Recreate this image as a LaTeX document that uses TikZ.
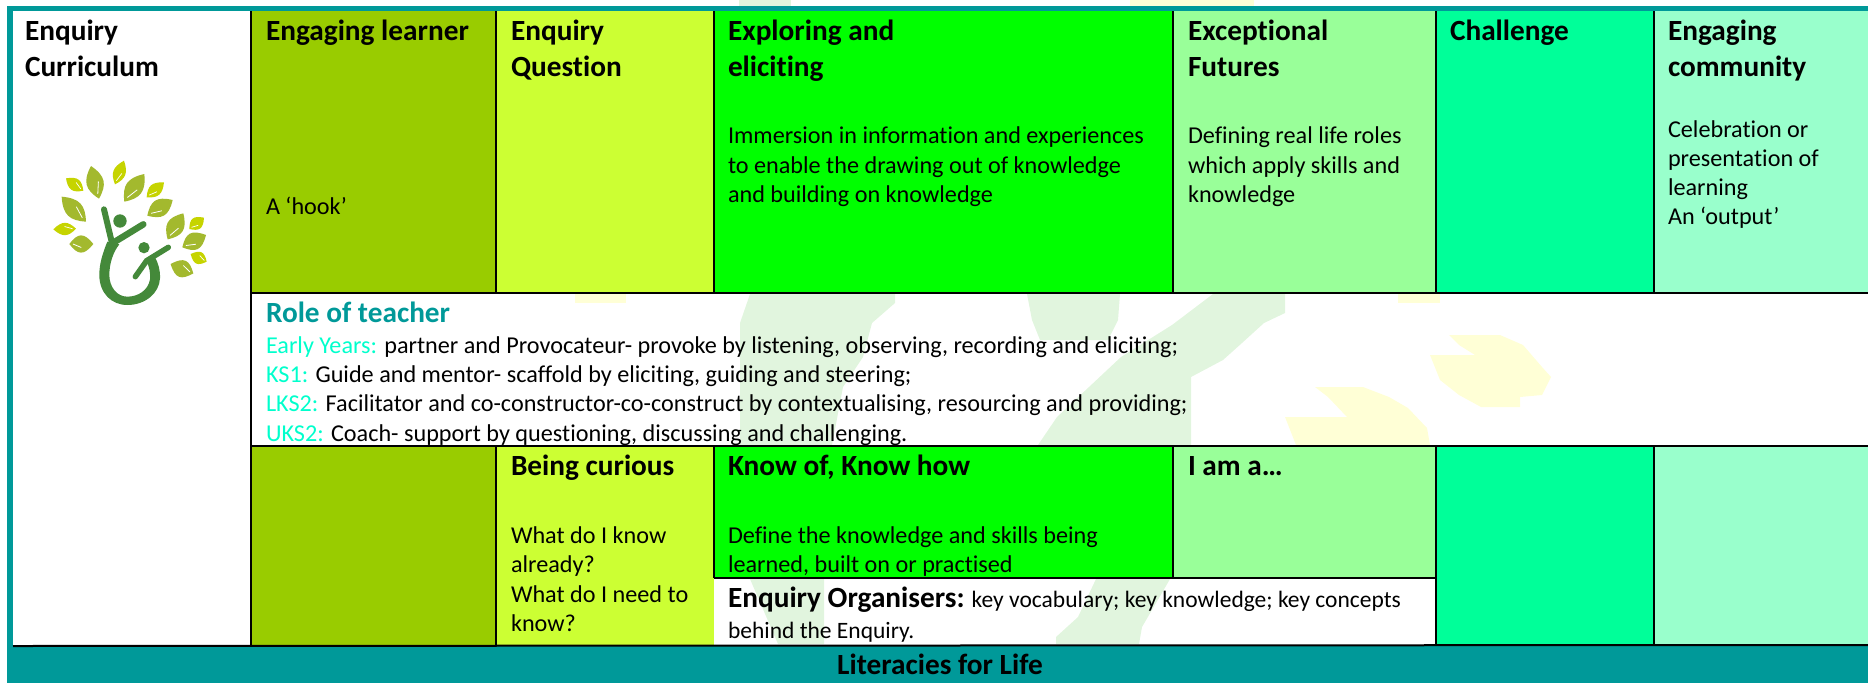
\documentclass[tikz,border=0pt]{standalone}
\usepackage{fontspec}
\setmainfont{Carlito}[Ligatures=NoCommon]
\usetikzlibrary{calc}
\definecolor{teal1}{HTML}{009999}
\definecolor{olive1}{HTML}{99CC00}
\definecolor{lime1}{HTML}{CCFF33}
\definecolor{green1}{HTML}{00FF00}
\definecolor{light1}{HTML}{99FF99}
\definecolor{spring1}{HTML}{00FF99}
\definecolor{mint1}{HTML}{99FFCC}
\definecolor{cyan1}{HTML}{00FFCC}
\definecolor{wmg}{HTML}{E1F5DE}
\definecolor{wmy}{HTML}{FFFFD6}
\definecolor{leafd}{HTML}{A3B92E}
\definecolor{leafl}{HTML}{C6D400}
\definecolor{treeg}{HTML}{44893A}
\newcommand\hdf{\fontsize{29.3}{35}\selectfont\bfseries}
\newcommand\bdf{\fontsize{24.2}{29}\selectfont}
\newcommand\orgf{\fontsize{23.5}{29}\selectfont}
\newcommand\leafd[4]{%
  \coordinate (la) at (#1,#2); \coordinate (lb) at (#3,#4);
  \fill[leafd] (la) .. controls ($(la)!.4!(lb)!12pt!90:(lb)$) and ($(la)!.65!(lb)!11pt!90:(lb)$) .. (lb)
    .. controls ($(la)!.65!(lb)!11pt!-90:(lb)$) and ($(la)!.4!(lb)!12pt!-90:(lb)$) .. (la);
  \draw[white,line width=.8pt] ($(la)!.5!(lb)!3.5pt!90:(lb)$) -- ($(la)!.85!(lb)$);
}
\newcommand\leafl[4]{%
  \coordinate (la) at (#1,#2); \coordinate (lb) at (#3,#4);
  \fill[leafl] (la) .. controls ($(la)!.4!(lb)!8.5pt!90:(lb)$) and ($(la)!.65!(lb)!8pt!90:(lb)$) .. (lb)
    .. controls ($(la)!.65!(lb)!8pt!-90:(lb)$) and ($(la)!.4!(lb)!8.5pt!-90:(lb)$) .. (la);
  \draw[white,line width=.7pt] ($(la)!.5!(lb)!2.5pt!90:(lb)$) -- ($(la)!.85!(lb)$);
}
\tikzset{
  x=1pt,y=-1pt,
  cellbox/.style={anchor=north west,inner sep=0pt,outer sep=0pt,minimum width=#1},
  hd/.style={anchor=base west,inner sep=0pt,outer sep=0pt,font=\hdf},
  bd/.style={anchor=base west,inner sep=0pt,outer sep=0pt,font=\bdf},
  org/.style={anchor=base west,inner sep=0pt,outer sep=0pt,font=\orgf},
  rule/.style={draw=black,line width=1.6pt},
  thick rule/.style={draw=black,line width=2pt},
}
\begin{document}
\begin{tikzpicture}
\useasboundingbox (0,0) rectangle (1868,683);
% frame
\node[cellbox=1868-7,fill=teal1,minimum height=5pt] (topband) at (7,6) {};
\node[cellbox=6,fill=teal1,minimum height=640pt] (leftband) at (7,6) {};
\node[cellbox=1868-7,fill=teal1,minimum height=37pt] (botband) at (7,646) {};
% row 1 cells
\node[cellbox=238,fill=white,minimum height=635pt] (c0) at (13,11) {};
\node[cellbox=245,fill=olive1,minimum height=282pt] (a1) at (251,11) {};
\node[cellbox=218,fill=lime1,minimum height=282pt] (a2) at (496,11) {};
\node[cellbox=459,fill=green1,minimum height=282pt] (a3) at (714,11) {};
\node[cellbox=263,fill=light1,minimum height=282pt] (a4) at (1173,11) {};
\node[cellbox=218,fill=spring1,minimum height=282pt] (a5) at (1436,11) {};
\node[cellbox=214,fill=mint1,minimum height=282pt] (a6) at (1654,11) {};
% row 3 cells
\node[cellbox=245,fill=olive1,minimum height=199pt] (b1) at (251,446) {};
\node[cellbox=218,fill=lime1,minimum height=199pt] (b2) at (496,446) {};
\node[cellbox=459,fill=green1,minimum height=132pt] (b3) at (714,446) {};
\node[cellbox=263,fill=light1,minimum height=132pt] (b4) at (1173,446) {};
\node[cellbox=218,fill=spring1,minimum height=199pt] (b5) at (1436,446) {};
\node[cellbox=214,fill=mint1,minimum height=199pt] (b6) at (1654,446) {};
% watermark fragments
\fill[wmg] (739,0) rectangle (791,6);
\fill[wmy] (1130,0) rectangle (1254,6);
\fill[wmg] (750,294) -- (895,294) -- (895,303) -- (872,323) -- (863,357) -- (843,387) -- (832,445) -- (740,445) -- (740,323) -- cycle;
\fill[wmg] (1027,294) -- (1120,294) -- (1118,320) -- (1108,340) -- (1040,340) -- (1032,320) -- cycle;
\fill[wmg] (1213,294) -- (1285,294) -- (1285,313) -- (1264,323) -- (1242,343) -- (1223,360) -- (1191,377) -- (1191,445) -- (1038,445) -- (1057,417) -- (1089,387) -- (1121,357) -- (1172,325) -- cycle;
\fill[wmy] (575,294) rectangle (626,303);
\fill[wmy] (1398,294) rectangle (1440,303);
\fill[wmy] (1449,335) -- (1500,335) -- (1523,345) -- (1542,367) -- (1551,377) -- (1542,395) -- (1520,397) -- (1520,407) -- (1481,407) -- (1459,395) -- (1440,380) -- (1430,355) -- (1475,355) -- (1459,345) -- cycle;
\fill[wmy] (1315,387) -- (1363,387) -- (1389,397) -- (1408,408) -- (1427,428) -- (1430,445) -- (1296,445) -- (1285,417) -- (1347,417) -- (1328,397) -- cycle;
\fill[wmg] (750,579) -- (824,579) -- (824,644) -- (778,644) -- cycle;
\fill[wmg] (1096,579) -- (1170,579) -- (1142,627) -- (1139,644) -- (1056,644) -- (1056,637) -- (1078,617) -- cycle;
% grid lines
\draw[rule] (a1.north west) -- (b1.south west);
\draw[rule] (a2.north west) -- (a2.south west);
\draw[rule] (a3.north west) -- (a3.south west);
\draw[rule] (a4.north west) -- (a4.south west);
\draw[rule] (a5.north west) -- (a5.south west);
\draw[rule] (a6.north west) -- (a6.south west);
\draw[thick rule] (a1.south west) -- (a6.south east);
\draw[thick rule] (b1.north west) -- (b6.north east);
\draw[rule] (b2.north west) -- (b2.south west);
\draw[rule] (b3.north west) -- (b3.south west);
\draw[rule] (b4.north west) -- (b4.south west);
\draw[rule] (b5.north west) -- (b5.south west);
\draw[rule] (b6.north west) -- (b6.south west);
\draw[thick rule] (b3.south west) -- (b4.south east);
\draw[thick rule] (c0.south west) -- (b6.south east);
% logo
\begin{scope}[shift={(30,150)},x=.33333pt,y=-.33333pt]
\leafd{183}{48}{207}{146}
\leafd{343}{72}{283}{155}
\leafd{95}{140}{168}{215}
\leafd{428}{150}{352}{197}
\leafd{460}{190}{413}{268}
\leafd{528}{255}{457}{292}
\leafd{190}{282}{118}{282}
\leafd{422}{342}{490}{370}
\leafl{282}{32}{255}{103}
\leafl{108}{85}{160}{122}
\leafl{402}{97}{350}{142}
\leafl{70}{238}{138}{236}
\leafl{522}{203}{478}{237}
\leafl{482}{312}{530}{335}
\fill[treeg] (232,275) .. controls (218,310) and (208,340) .. (208,375)
  .. controls (208,430) and (245,465) .. (292,465)
  .. controls (345,465) and (388,430) .. (390,385)
  .. controls (391,360) and (385,340) .. (375,322)
  -- (350,335) .. controls (358,350) and (362,370) .. (360,388)
  .. controls (355,420) and (325,440) .. (292,440)
  .. controls (260,440) and (238,410) .. (238,375)
  .. controls (238,340) and (250,305) .. (268,283) -- cycle;
\draw[treeg,line width=6pt,line cap=round] (222,178) -- (245,275);
\draw[treeg,line width=6.5pt,line cap=round] (340,223) -- (250,278);
\draw[treeg,line width=5.5pt,line cap=round] (415,292) -- (350,332) -- (316,380);
\fill[treeg] (270,213) circle (20);
\fill[treeg] (342,293) circle (17);
\end{scope}
\begin{scope}[yshift=-1pt]
% texts row 1
\node[hd] (t01) at (25,39) {Enquiry};
\node[hd] (t02) at (25,75) {Curriculum};
\node[hd] (t11) at (266,39) {Engaging learner};
\node[bd] (t12) at (266,213) {A ‘hook’};
\node[hd] (t21) at (511,39) {Enquiry};
\node[hd] (t22) at (511,75) {Question};
\node[hd] (t31) at (728,39) {Exploring and};
\node[hd] (t32) at (728,75) {eliciting};
\node[bd] (t33) at (728,142) {Immersion in information and experiences};
\node[bd] (t34) at (728,172) {to enable the drawing out of knowledge};
\node[bd] (t35) at (728,201) {and building on knowledge};
\node[hd] (t41) at (1188,39) {Exceptional};
\node[hd] (t42) at (1188,75) {Futures};
\node[bd] (t43) at (1188,142) {Defining real life roles};
\node[bd] (t44) at (1188,172) {which apply skills and};
\node[bd] (t45) at (1188,201) {knowledge};
\node[hd] (t51) at (1450,39) {Challenge};
\node[hd] (t61) at (1668,39) {Engaging};
\node[hd] (t62) at (1668,75) {community};
\node[bd] (t63) at (1668,136) {Celebration or};
\node[bd] (t64) at (1668,165) {presentation of};
\node[bd] (t65) at (1668,194) {learning};
\node[bd] (t66) at (1668,223) {An ‘output’};
% texts row 2
\node[hd,text=teal1] (r0) at (266,321) {Role of teacher};
\node[bd] (r1) at (266,352) {\textcolor{cyan1}{Early Years:} partner and Provocateur- provoke by listening, observing, recording and eliciting;};
\node[bd] (r2) at (266,381) {\textcolor{cyan1}{KS1:} Guide and mentor- scaffold by eliciting, guiding and steering;};
\node[bd] (r3) at (266,410) {\textcolor{cyan1}{LKS2:} Facilitator and co-constructor-co-construct by contextualising, resourcing and providing;};
\node[bd] (r4) at (266,440) {\textcolor{cyan1}{UKS2:} Coach- support by questioning, discussing and challenging.};
% texts row 3
\node[hd] (s21) at (511,474) {Being curious};
\node[bd] (s22) at (511,542) {What do I know};
\node[bd] (s23) at (511,571) {already?};
\node[bd] (s24) at (511,601) {What do I need to};
\node[bd] (s25) at (511,630) {know?};
\node[hd] (s31) at (728,474) {Know of, Know how};
\node[bd] (s32) at (728,542) {Define the knowledge and skills being};
\node[bd] (s33) at (728,571) {learned, built on or practised};
\node[hd] (s41) at (1188,474) {I am a…};
\node[org] (s51) at (728,606) {{\hdf Enquiry Organisers:} key vocabulary; key knowledge; key concepts};
\node[org] (s52) at (728,637) {behind the Enquiry.};
\node[anchor=base,inner sep=0pt,font=\hdf] (lit) at (940,673) {Literacies for Life};
\end{scope}
\end{tikzpicture}
\end{document}
